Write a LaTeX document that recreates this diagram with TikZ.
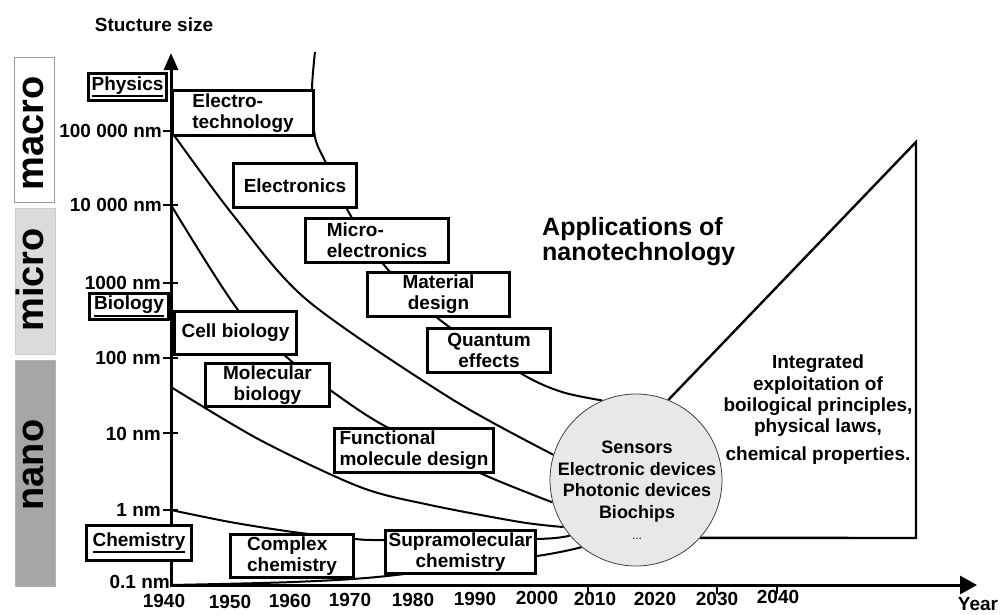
\documentclass[tikz,border=0pt]{standalone}
\usepackage{fontspec}
\setmainfont{Liberation Sans}
\usepackage{tikz}
\usetikzlibrary{arrows.meta,backgrounds}

\newcommand{\ulword}[1]{\vtop{\hbox{#1}\kern1pt\hrule height 1.8pt}}

\tikzset{
  topic/.style={draw, line width=2.6pt, fill=white, inner sep=1pt,
    font=\bfseries\fontsize{19}{21}\selectfont},
  sizebar/.style={draw=black!40, line width=0.8pt, inner sep=0pt, minimum width=40pt},
  sizeword/.style={rotate=90, anchor=base, inner sep=0pt,
    font=\bfseries\fontsize{38}{40}\selectfont},
  plain/.style={inner sep=0pt, font=\bfseries\fontsize{19}{21}\selectfont},
  trend/.style={line width=2pt, line join=round},
  ytick/.style={line width=2.4pt},
}

\begin{document}
\begin{tikzpicture}[x=1pt,y=-1pt]
\useasboundingbox (0,0) rectangle (1002,614);

\node[sizebar, fill=white, minimum height=145pt] (macrobar) at (34.5,129.5) {};
\node[sizebar, fill=black!14, draw=black!20, minimum height=146pt] (microbar) at (35,281) {};
\node[sizebar, fill=black!35, draw=black!30, minimum height=226pt] (nanobar) at (35,473) {};
\node[sizeword] (macro) at (43,133.5) {macro};
\node[sizeword] (micro) at (43,280) {micro};
\node[sizeword] (nano) at (43,465) {nano};

\node[plain, anchor=base] (ylabel) at (154,31.7) {Stucture size};

\coordinate (o) at (171,585);
\coordinate (ytip) at (171,53);
\coordinate (xtip) at (977,585);
\draw[line width=3pt, {Triangle[width=14pt,length=17pt]}-{Triangle[width=18pt,length=17pt]}] (ytip) -- (o) -- (xtip);

\coordinate (s100k) at (171,131);
\coordinate (s10k) at (171,205);
\coordinate (s1k) at (171,283);
\coordinate (s100) at (171,358);
\coordinate (s10) at (171,433);
\coordinate (s1) at (171,510);
\coordinate (mol) at (171,387);
\draw[ytick] (s100k) ++(-8,0) -- ++(15,0)
             (s10k) ++(-8,0) -- ++(15,0)
             (s1k) ++(-8,0) -- ++(15,0)
             (s100) ++(-8,0) -- ++(15,0)
             (s10) ++(-8,0) -- ++(15,0)
             (s1) ++(-8,0) -- ++(15,0);
\draw[line width=2pt] (588,585) -- (588,594) (717,585) -- (717,594) (777,585) -- (777,594);

\node[plain, anchor=base east] (l100k) at (162,137.8) {100 000 nm};
\node[plain, anchor=base east] (l10k) at (162,211.8) {10 000 nm};
\node[plain, anchor=base east] (l1k) at (161,289.5) {1000 nm};
\node[plain, anchor=base east] (l100) at (161,364.8) {100 nm};
\node[plain, anchor=base east] (l10) at (161,440) {10 nm};
\node[plain, anchor=base east] (l1) at (161,516.8) {1 nm};
\node[plain, anchor=base east] (l01) at (170,588) {0.1 nm};

\node[plain, anchor=base] (y1940) at (164,607) {1940};
\node[plain, anchor=base] (y1950) at (230,608) {1950};
\node[plain, anchor=base] (y1960) at (290,607) {1960};
\node[plain, anchor=base] (y1970) at (350,606) {1970};
\node[plain, anchor=base] (y1980) at (413,606) {1980};
\node[plain, anchor=base] (y1990) at (475,605) {1990};
\node[plain, anchor=base] (y2000) at (537,604) {2000};
\node[plain, anchor=base] (y2010) at (595,605) {2010};
\node[plain, anchor=base] (y2020) at (655,605) {2020};
\node[plain, anchor=base] (y2030) at (717,605) {2030};
\node[plain, anchor=base] (y2040) at (778,603) {2040};
\node[plain, anchor=base] (year) at (978,610.5) {Year};

\node[topic, minimum width=78pt, minimum height=27pt] (physics) at (127.5,87) {\ulword{Physics}};
\node[topic, minimum width=79pt, minimum height=26pt] (biology) at (129,306.5) {\ulword{Biology}};
\node[topic, minimum width=105pt, minimum height=35pt] (chemistry) at (139,543) {\ulword{Chemistry}};

\node[topic, minimum width=141pt, minimum height=45pt, align=left] (electro) at (243,113) {Electro-\\technology};
\node[topic, minimum width=123pt, minimum height=44pt] (electronics) at (295,185.5) {Electronics};
\node[topic, minimum width=143pt, minimum height=44pt, align=left] (microel) at (377,240.5) {Micro-\\electronics};
\node[topic, minimum width=142pt, minimum height=44pt, align=center] (material) at (438.5,294.5) {Material\\design};
\node[topic, minimum width=123pt, minimum height=44pt, align=center] (quantum) at (489,350.5) {Quantum\\effects};
\node[topic, minimum width=122pt, minimum height=43pt] (cell) at (235.5,333) {Cell biology};
\node[topic, minimum width=124pt, minimum height=43pt, align=center] (molbio) at (267.5,385) {Molecular\\biology};
\node[topic, minimum width=159pt, minimum height=44pt, align=left] (funcmol) at (414,450.5) {Functional\\molecule design};
\node[topic, minimum width=123pt, minimum height=43pt, align=left] (complex) at (292,556) {Complex\\chemistry};
\node[topic, minimum width=150pt, minimum height=43pt, align=center] (supra) at (460.5,552) {Supramolecular\\chemistry};

\node[circle, draw=black!75, line width=0.8pt, fill=black!9, minimum size=172pt, inner sep=0pt] (hub) at (636,480) {};
\node[anchor=north, align=center, inner sep=0pt, font=\bfseries\fontsize{18}{21.5}\selectfont] (hubtext) at (637,441)
  {Sensors\\Electronic devices\\Photonic devices\\Biochips\\{\mdseries\fontsize{12}{14}\selectfont...}};

\node[anchor=north west, align=left, inner sep=0pt, font=\bfseries\fontsize{25}{24.5}\selectfont] (apps) at (542,217.5)
  {Applications of\\nanotechnology};

\coordinate (apex) at (916,142);
\coordinate (corner) at (916,538);
\node[anchor=north, align=center, inner sep=0pt, font=\bfseries\fontsize{19}{21.3}\selectfont] (integ) at (818,355)
  {Integrated\\exploitation of\\boilogical principles,\\physical laws,\\[6pt]chemical properties.};

\coordinate (etop) at (315,52);
\begin{scope}[on background layer]
\draw[trend] plot[smooth] coordinates {(etop) (312,90) (315,137) (326,163) (348,211) (384,265) (440,320) (522,374) (562,392) (hub.113)};
\draw[trend] plot[smooth] coordinates {(s100k) (233,215) (307,300) (450,398) (hub.163)};
\draw[trend] plot[smooth] coordinates {(s10k) (238,310) (290,360) (330,390) (383,425) (480,473) (hub.195)};
\draw[trend] plot[smooth] coordinates {(mol) (260,440) (360,487) (430,505) (520,522) (hub.213)};
\draw[trend] plot[smooth] coordinates {(s1) (230,522) (293,532) (355,539) (387,540) (537,539) (hub.220)};
\draw[trend] plot[smooth] coordinates {(o) (293,582) (387,576) (537,556) (hub.231)};
\draw[line width=2.4pt] (hub.68) -- (apex) -- (corner) -- (hub.318);
\end{scope}
\end{tikzpicture}
\end{document}
